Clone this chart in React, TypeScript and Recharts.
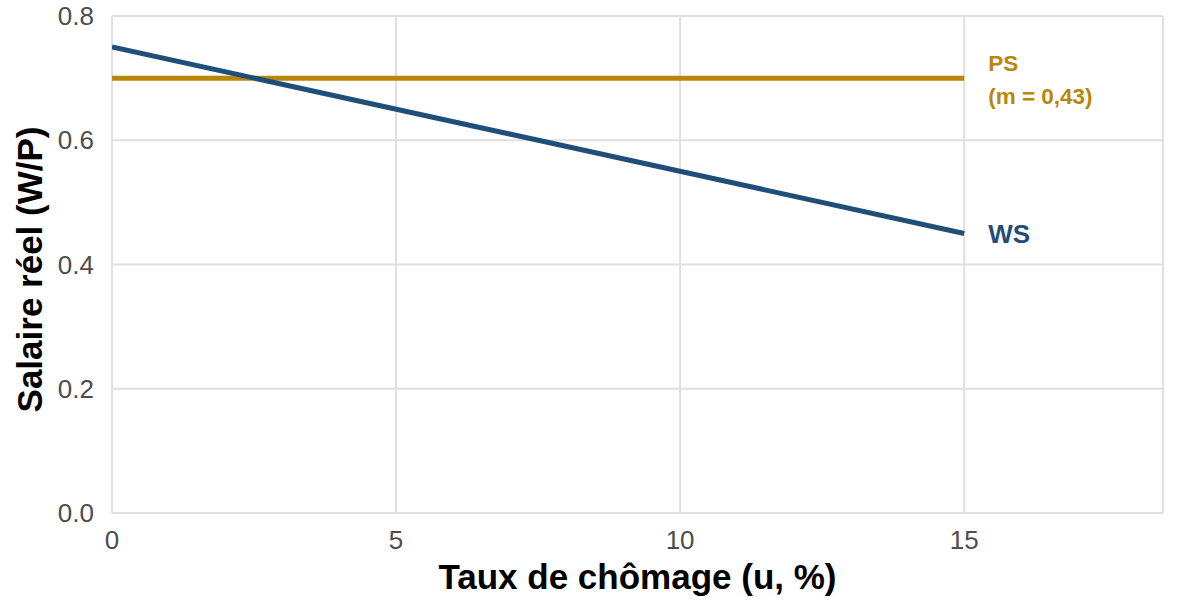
import { CartesianGrid, Label, Line, LineChart, XAxis, YAxis } from "recharts";

// Taux de chômage (u, %)
const u = [0, 15];
// Wage-setting curve
const ws = [0.75, 0.45];
// Price-setting curve (m = 0,43)
const ps = [0.7, 0.7];

const xTicks = [0, 5, 10, 15];
const yTicks = [0, 0.2, 0.4, 0.6, 0.8];

const data = u.map((x, i) => ({ u: x, ws: ws[i], ps: ps[i] }));

const WS_COLOR = "#1f4e79";
const PS_COLOR = "#b8860b";
const FONT = "'Liberation Sans', Arial, Helvetica, sans-serif";
const TITLE_SIZE = 35;

// text label at the last point of a line; offsets are baseline shifts from the point
const endLabel = (lines: string[], color: string, size: number, offsets: number[]) => (props: any) => {
  const { x, y, index } = props;
  if (index !== data.length - 1) return null;
  return (
    <g>
      {lines.map((t, i) => (
        <text
          key={t}
          x={x + 24}
          y={y + offsets[i]}
          fill={color}
          fontSize={size}
          fontWeight="bold"
          fontFamily={FONT}
        >
          {t}
        </text>
      ))}
    </g>
  );
};

export default function App() {
  return (
    <div style={{ position: "absolute", left: 0, top: 0, background: "#fff" }}>
      <LineChart
        width={1190}
        height={614}
        data={data}
        margin={{ top: 16, right: 27, bottom: 0, left: 0 }}
        style={{ fontFamily: FONT }}
      >
        <CartesianGrid stroke="#e0e0e0" strokeWidth={2} />
        <XAxis
          dataKey="u"
          type="number"
          domain={[0, 18.5]}
          ticks={xTicks}
          allowDataOverflow
          tickLine={false}
          axisLine={false}
          height={101}
          tickMargin={12}
          tick={{ fontSize: 26, fill: "#4d4d4d" }}
        >
          <Label
            content={(p: any) => {
              const vb = p.viewBox;
              return (
                <text
                  x={vb.x + vb.width / 2}
                  y={589}
                  textAnchor="middle"
                  fontSize={TITLE_SIZE}
                  fontWeight="bold"
                  fontFamily={FONT}
                  fill="#000"
                >
                  Taux de chômage (u, %)
                </text>
              );
            }}
          />
        </XAxis>
        <YAxis
          type="number"
          domain={[0, 0.8]}
          ticks={yTicks}
          tickFormatter={(v: number) => v.toFixed(1)}
          tickLine={false}
          axisLine={false}
          width={112}
          tickMargin={12}
          tick={{ fontSize: 26, fill: "#4d4d4d" }}
        >
          <Label
            content={(p: any) => {
              const vb = p.viewBox;
              const cy = vb.y + vb.height / 2 + 5;
              return (
                <text
                  x={42}
                  y={cy}
                  transform={`rotate(-90, 42, ${cy})`}
                  textAnchor="middle"
                  fontSize={TITLE_SIZE}
                  fontWeight="bold"
                  fontFamily={FONT}
                  fill="#000"
                >
                  Salaire réel (W/P)
                </text>
              );
            }}
          />
        </YAxis>
        <Line
          dataKey="ps"
          stroke={PS_COLOR}
          strokeWidth={5}
          dot={false}
          isAnimationActive={false}
          label={endLabel(["PS", "(m = 0,43)"], PS_COLOR, 22.5, [-7, 26])}
        />
        <Line
          dataKey="ws"
          stroke={WS_COLOR}
          strokeWidth={5}
          dot={false}
          isAnimationActive={false}
          label={endLabel(["WS"], WS_COLOR, 26, [10])}
        />
      </LineChart>
    </div>
  );
}
